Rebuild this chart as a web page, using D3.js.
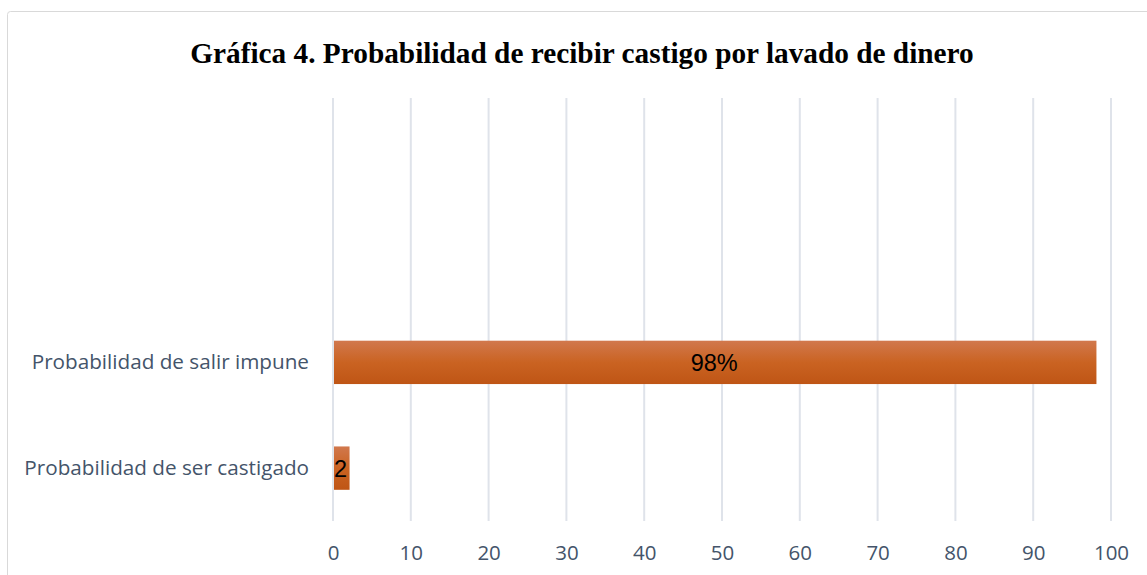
<!DOCTYPE html>
<html lang="es">
<head>
<meta charset="UTF-8">
<title>Gráfica 4</title>
<script src="https://cdn.jsdelivr.net/npm/d3@7"></script>
<style>
  body { margin: 0; background: #fff; }
</style>
</head>
<body>
<script>
// data
const categories = ["", " ", "Probabilidad de salir impune", "Probabilidad de ser castigado"];
const values = [null, null, 98, 2];
const valueLabels = ["", "", "98%", "2"];
const xTicks = [0, 10, 20, 30, 40, 50, 60, 70, 80, 90, 100];

const width = 1147, height = 575;
const margin = { top: 98, right: 36, bottom: 54, left: 333 };

const svg = d3.select("body").append("svg")
    .attr("width", width)
    .attr("height", height);

// chart frame
svg.append("rect")
    .attr("x", 7.5).attr("y", 11.5)
    .attr("width", 1160).attr("height", 620)
    .attr("rx", 3)
    .attr("fill", "#fff")
    .attr("stroke", "#d9d9d9");

// gradient for bars
const grad = svg.append("defs").append("linearGradient")
    .attr("id", "barGrad")
    .attr("x1", 0).attr("y1", 0).attr("x2", 0).attr("y2", 1);
grad.append("stop").attr("offset", "0%").attr("stop-color", "#d1784d");
grad.append("stop").attr("offset", "50%").attr("stop-color", "#ca6322");
grad.append("stop").attr("offset", "100%").attr("stop-color", "#bf5515");

// title
svg.append("text")
    .attr("x", 582).attr("y", 63)
    .attr("text-anchor", "middle")
    .attr("font-family", "Liberation Serif, Times New Roman, serif")
    .attr("font-weight", "bold")
    .attr("font-size", 29.3)
    .attr("fill", "#000")
    .text("Gráfica 4. Probabilidad de recibir castigo por lavado de dinero");

const x = d3.scaleLinear()
    .domain([0, 100])
    .range([margin.left, width - margin.right]);

const y = d3.scaleBand()
    .domain(categories)
    .range([margin.top, height - margin.bottom]);

// gridlines
svg.append("g")
    .selectAll("line")
    .data(xTicks)
    .join("line")
    .attr("x1", d => x(d)).attr("x2", d => x(d))
    .attr("y1", margin.top).attr("y2", height - margin.bottom)
    .attr("stroke", "#dfe3ea")
    .attr("stroke-width", 2);

// x axis labels
const xAxis = svg.append("g")
    .attr("transform", `translate(0,${height - margin.bottom})`)
    .call(d3.axisBottom(x).tickValues(xTicks).tickSize(0).tickPadding(24));
xAxis.select(".domain").remove();
xAxis.selectAll("text")
    .attr("font-family", "Open Sans, sans-serif")
    .attr("font-size", 20.5)
    .attr("fill", "#44546a");

// y axis labels
const yAxis = svg.append("g")
    .attr("transform", `translate(${margin.left},0)`)
    .call(d3.axisLeft(y).tickSize(0).tickPadding(24));
yAxis.select(".domain").remove();
yAxis.selectAll("text")
    .attr("font-family", "Open Sans, sans-serif")
    .attr("font-size", 20.7)
    .attr("fill", "#44546a");

const barH = y.bandwidth() * 0.41;
const rows = categories.map((c, i) => ({ c, v: values[i], label: valueLabels[i] }))
    .filter(d => d.v !== null);

svg.append("g")
    .selectAll("rect")
    .data(rows)
    .join("rect")
    .attr("x", x(0) + 1)
    .attr("y", d => y(d.c) + (y.bandwidth() - barH) / 2)
    .attr("width", d => x(d.v) - x(0))
    .attr("height", barH)
    .attr("fill", "url(#barGrad)");

// data labels
svg.append("g")
    .selectAll("text")
    .data(rows)
    .join("text")
    .attr("x", d => d.v > 10 ? (x(0) + x(d.v)) / 2 : x(0) + 1)
    .attr("y", d => y(d.c) + y.bandwidth() / 2)
    .attr("dy", "0.36em")
    .attr("text-anchor", d => d.v > 10 ? "middle" : "start")
    .attr("font-family", "Liberation Sans, Arial, sans-serif")
    .attr("font-size", 23.5)
    .attr("fill", "#000")
    .text(d => d.label);
</script>
</body>
</html>
